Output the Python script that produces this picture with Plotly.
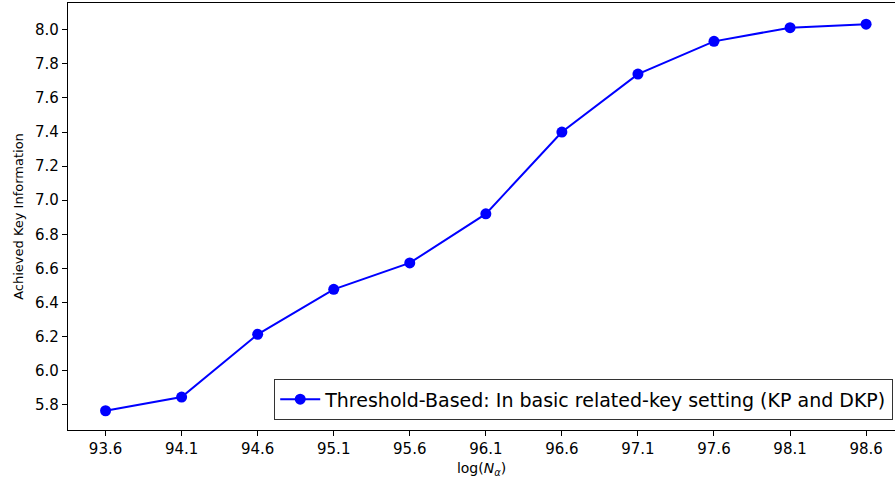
import plotly.graph_objects as go

x_labels = ["93.6", "94.1", "94.6", "95.1", "95.6", "96.1", "96.6", "97.1", "97.6", "98.1", "98.6"]
x_values = [93.6, 94.1, 94.6, 95.1, 95.6, 96.1, 96.6, 97.1, 97.6, 98.1, 98.6]
y_values = [5.765, 5.845, 6.213, 6.477, 6.632, 6.92, 7.40, 7.74, 7.932, 8.012, 8.033]
y_ticks = [5.8, 6.0, 6.2, 6.4, 6.6, 6.8, 7.0, 7.2, 7.4, 7.6, 7.8, 8.0]
series_name = "Threshold-Based: In basic related-key setting (KP and DKP)"

fig = go.Figure()
fig.add_trace(go.Scatter(
    x=x_values, y=y_values, mode="lines+markers", name=series_name,
    line=dict(color="#0000ff", width=2),
    marker=dict(color="#0000ff", size=11),
))

font = "DejaVu Sans, sans-serif"
fig.update_layout(
    width=895, height=486,
    margin=dict(l=68, r=0, t=3, b=56),
    paper_bgcolor="white", plot_bgcolor="white",
    font=dict(family=font, size=15, color="black"),
    showlegend=True,
    legend=dict(
        x=0.9976, y=0.023, xanchor="right", yanchor="bottom",
        bordercolor="#333333", borderwidth=1.2, bgcolor="rgba(255,255,255,0.8)",
        font=dict(size=19, family=font),
        itemwidth=40,
    ),
    xaxis=dict(
        range=[93.353, 98.79],
        tickvals=x_values, ticktext=x_labels,
        showgrid=False, zeroline=False,
        showline=True, linecolor="black", linewidth=1.2, mirror=True,
        ticks="outside", ticklen=5, tickcolor="black", tickwidth=1.2,
        tickfont=dict(size=15),
        title=dict(text="log(<i>N</i><sub><i>α</i></sub>)", standoff=6, font=dict(size=14)),
    ),
    yaxis=dict(
        range=[5.652, 8.157],
        tickvals=y_ticks, ticktext=[f"{v:.1f}" for v in y_ticks],
        showgrid=False, zeroline=False,
        showline=True, linecolor="black", linewidth=1.2,
        ticks="outside", ticklen=5, tickcolor="black", tickwidth=1.2,
        tickfont=dict(size=15),
        title=dict(text="Achieved Key Information", standoff=8, font=dict(size=13)),
    ),
)

fig.write_html("out.html")
